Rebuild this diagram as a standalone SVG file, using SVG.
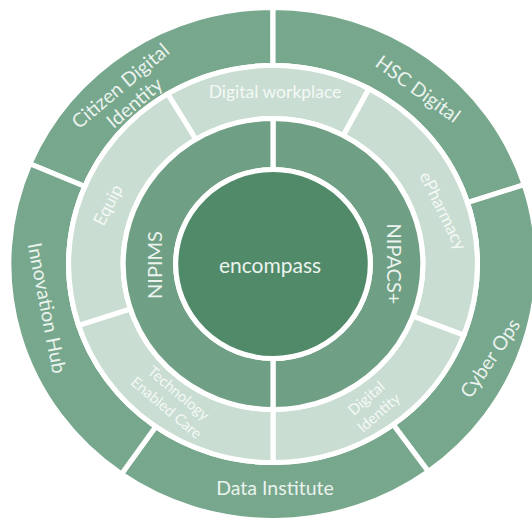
<svg xmlns="http://www.w3.org/2000/svg" width="532" height="519" viewBox="0 0 532 519">
<style>
.outer{fill:#77a78c;stroke:#fff;stroke-width:5;stroke-linejoin:miter}
.light{fill:#c9ddd2;stroke:#fff;stroke-width:5}
.mid{fill:#6f9f84;stroke:#fff;stroke-width:5}
.core{fill:#518a69;stroke:#fff;stroke-width:5}
text{font-family:Lato,"Open Sans","Liberation Sans",sans-serif;text-anchor:middle;fill:#eaf3ee}
.big{font-size:19.5px}
.ctr{font-size:21px}
.in{font-size:20px}
.lt{font-size:17.5px;fill:#f4f9f6}
.sm{font-size:15px;fill:#f4f9f6}
</style>
<rect width="532" height="519" fill="#fff"/>
<g transform="translate(273,264) scale(1.03,1)">
  <g id="citizen-digital-identity"><path class="outer" d="M-236.11,-100.22 A256.5 256.5 0 0 1 0,-256.5 L0,-198.5 A198.5 198.5 0 0 0 -182.72,-77.56 Z"/></g>
  <g id="hsc-digital"><path class="outer" d="M0,-256.5 A256.5 256.5 0 0 1 243.95,-79.26 L188.79,-61.34 A198.5 198.5 0 0 0 0,-198.5 Z"/></g>
  <g id="cyber-ops"><path class="outer" d="M243.95,-79.26 A256.5 256.5 0 0 1 150.77,207.51 L116.68,160.59 A198.5 198.5 0 0 0 188.79,-61.34 Z"/></g>
  <g id="data-institute"><path class="outer" d="M150.77,207.51 A256.5 256.5 0 0 1 -147.12,210.11 L-113.86,162.60 A198.5 198.5 0 0 0 116.68,160.59 Z"/></g>
  <g id="innovation-hub"><path class="outer" d="M-147.12,210.11 A256.5 256.5 0 0 1 -236.11,-100.22 L-182.72,-77.56 A198.5 198.5 0 0 0 -113.86,162.60 Z"/></g>
  <g id="digital-workplace"><path class="light" d="M-102.23,-170.15 A198.5 198.5 0 0 1 93.19,-175.27 L68.31,-128.47 A145.5 145.5 0 0 0 -74.94,-124.72 Z"/></g>
  <g id="epharmacy"><path class="light" d="M93.19,-175.27 A198.5 198.5 0 0 1 185.32,71.14 L135.84,52.14 A145.5 145.5 0 0 0 68.31,-128.47 Z"/></g>
  <g id="digital-identity"><path class="light" d="M185.32,71.14 A198.5 198.5 0 0 1 0,198.5 L0,145.5 A145.5 145.5 0 0 0 135.84,52.14 Z"/></g>
  <g id="technology-enabled-care"><path class="light" d="M0,198.5 A198.5 198.5 0 0 1 -188.79,61.34 L-138.38,44.96 A145.5 145.5 0 0 0 0,145.5 Z"/></g>
  <g id="equip"><path class="light" d="M-188.79,61.34 A198.5 198.5 0 0 1 -102.23,-170.15 L-74.94,-124.72 A145.5 145.5 0 0 0 -138.38,44.96 Z"/></g>
  <g id="nipacs"><path class="mid" d="M0,-145.5 A145.5 145.5 0 0 1 0,145.5 L0,94.5 A94.5 94.5 0 0 0 0,-94.5 Z"/></g>
  <g id="nipims"><path class="mid" d="M0,145.5 A145.5 145.5 0 0 1 0,-145.5 L0,-94.5 A94.5 94.5 0 0 0 0,94.5 Z"/></g>
  <g id="encompass"><circle class="core" r="94.5"/></g>
</g>
<g id="labels">
  <text class="ctr" x="270" y="273">encompass</text>
  <text class="in" transform="translate(155,265) rotate(-90)" y="7">NIPIMS</text>
  <text class="in" transform="translate(394,264) rotate(90)" y="7">NIPACS+</text>
  <text class="lt" x="275" y="98">Digital workplace</text>
  <text class="lt" transform="translate(108,205) rotate(-63)" y="6">Equip</text>
  <text class="lt" transform="translate(443,211) rotate(64)" y="6">ePharmacy</text>
  <g transform="translate(373,406) rotate(-41)">
    <text class="sm" y="-5">Digital</text>
    <text class="sm" y="14">Identity</text>
  </g>
  <g transform="translate(172,401) rotate(40)">
    <text class="sm" y="-5">Technology</text>
    <text class="sm" y="14">Enabled Care</text>
  </g>
  <g transform="translate(128,95) rotate(-40)">
    <text class="big" y="-5">Citizen Digital</text>
    <text class="big" y="17">Identity</text>
  </g>
  <text class="big" transform="translate(418,89) rotate(36)" y="7">HSC Digital</text>
  <text class="big" transform="translate(490,358) rotate(-56)" y="7">Cyber Ops</text>
  <text class="big" x="275" y="495">Data Institute</text>
  <text class="big" transform="translate(47,308) rotate(79)" y="7">Innovation Hub</text>
</g>
</svg>
